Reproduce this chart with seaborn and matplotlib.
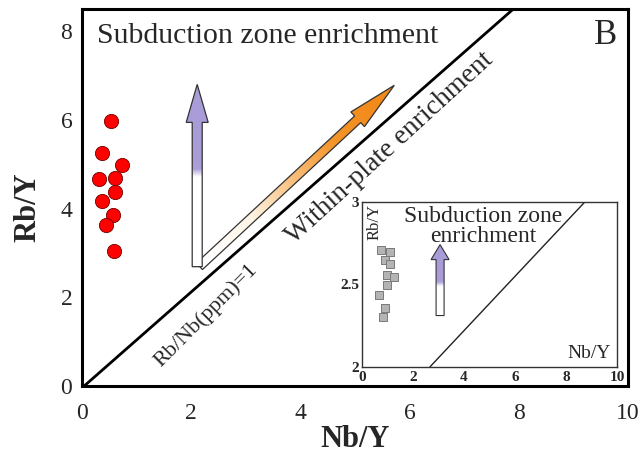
import numpy as np
import pandas as pd
import matplotlib
matplotlib.use("Agg")
import matplotlib.pyplot as plt
import seaborn as sns
from matplotlib.patches import Polygon
from matplotlib.colors import LinearSegmentedColormap

# ---------------- data ----------------
main_nb_y = [0.53, 0.36, 0.74, 0.32, 0.61, 0.61, 0.37, 0.57, 0.44, 0.58]
main_rb_y = [5.97, 5.25, 4.98, 4.67, 4.70, 4.38, 4.18, 3.86, 3.62, 3.05]

inset_nb_y = [0.76, 1.11, 0.91, 1.11, 1.00, 1.26, 0.98, 0.69, 0.91, 0.82]
inset_rb_y = [2.707, 2.696, 2.646, 2.622, 2.555, 2.545, 2.495, 2.434, 2.358, 2.303]

main_line_x = [0.04, 7.9]
main_line_y = [0.0, 8.5]
inset_line_x = [2.68, 8.75]
inset_line_y = [2.0, 3.0]

main_xticks = [0, 2, 4, 6, 8, 10]
main_yticks = [0, 2, 4, 6, 8]
inset_xticks = [0, 2, 4, 6, 8, 10]
inset_yticks = [2, 2.5, 3]
inset_ytick_labels = ["2", "2.5", "3"]

# arrows (data coordinates): base, tip
subd_arrow = [(2.11, 2.69), (2.11, 6.80)]
wpe_arrow = [(2.15, 2.70), (5.72, 6.78)]
inset_arrow = [(3.07, 2.31), (3.07, 2.74)]

# ---------------- style ----------------
sns.set_style("white")
plt.rcParams["font.family"] = ["Liberation Serif", "DejaVu Serif"]

W, H, DPI = 6.44, 4.57, 100
fig = plt.figure(figsize=(W, H), dpi=DPI)
ax = fig.add_axes([82 / 644, 1 - 386 / 457, 546 / 644, 377 / 457])
ax.set_xlim(0, 10)
ax.set_ylim(0, 8.5)

purple_cmap = LinearSegmentedColormap.from_list("pur", ["#ffffff", "#ffffff", "#ada0da", "#a99cd8"], N=256)
orange_cmap = LinearSegmentedColormap.from_list("org", ["#ffffff", "#fff6e6", "#f9c080", "#f4952a", "#f28a1c"], N=256)


def arrow_poly(axis, base, tip, sw, hw, hl):
    p0 = axis.transData.transform(base)
    p1 = axis.transData.transform(tip)
    d = p1 - p0
    L = np.hypot(*d)
    u = d / L
    n = np.array([-u[1], u[0]])
    hb = p1 - u * hl
    pts = np.array([p0 + n * sw / 2, hb + n * sw / 2, hb + n * hw / 2, p1,
                    hb - n * hw / 2, hb - n * sw / 2, p0 - n * sw / 2])
    return axis.transData.inverted().transform(pts), p0, u, L


def gradient_arrow(axis, base, tip, sw, hw, hl, cmap, t0, t1, z=3, lw=0.9):
    verts, p0, u, L = arrow_poly(axis, base, tip, sw, hw, hl)
    patch = Polygon(verts, closed=True, facecolor="none", edgecolor="#333333",
                    lw=lw, zorder=z + 1, joinstyle="miter")
    axis.add_patch(patch)
    clip = Polygon(verts, closed=True, facecolor="none", edgecolor="none", transform=axis.transData)
    axis.add_patch(clip)
    x0, y0 = verts.min(axis=0)
    x1, y1 = verts.max(axis=0)
    nx, ny = 200, 200
    gx = np.linspace(x0, x1, nx)
    gy = np.linspace(y0, y1, ny)
    GX, GY = np.meshgrid(gx, gy)
    P = axis.transData.transform(np.column_stack([GX.ravel(), GY.ravel()]))
    t = ((P - p0) @ u) / L
    t = np.clip((t - t0) / (t1 - t0), 0, 1).reshape(ny, nx)
    im = axis.imshow(t, extent=[x0, x1, y0, y1], origin="lower", cmap=cmap,
                     aspect="auto", zorder=z, interpolation="bilinear", vmin=0, vmax=1)
    im.set_clip_path(clip)


# ---------------- main plot ----------------
main_df = pd.DataFrame({"Nb/Y": main_nb_y, "Rb/Y": main_rb_y})
sns.lineplot(x=main_line_x, y=main_line_y, ax=ax, color="black", lw=2.0, zorder=2)
gradient_arrow(ax, wpe_arrow[0], wpe_arrow[1], 9, 20, 50, orange_cmap, 0.05, 0.9, z=3)
gradient_arrow(ax, subd_arrow[0], subd_arrow[1], 10, 22, 38, purple_cmap, 0.45, 0.58, z=5)
sns.scatterplot(data=main_df, x="Nb/Y", y="Rb/Y", ax=ax, color="#ff0000",
                edgecolor="#700000", linewidth=0.6, s=105, zorder=7)

ax.set_xlim(0, 10)
ax.set_ylim(0, 8.5)
ax.set_xticks(main_xticks)
ax.set_yticks(main_yticks)
ax.tick_params(axis="x", length=0, pad=12, labelsize=17)
ax.tick_params(axis="y", length=0, pad=7, labelsize=17)
for s in ax.spines.values():
    s.set_linewidth(2.2)
    s.set_color("black")
ax.set_xlabel("Nb/Y", fontsize=22, fontweight="bold", labelpad=1)
ax.set_ylabel("Rb/Y", fontsize=22, fontweight="bold", labelpad=11)
ax.yaxis.set_label_coords(-0.072, 0.475)

ax.text(0.28, 7.88, "Subduction zone enrichment", fontsize=21.5, ha="left", va="center")
ax.text(9.8, 7.9, "B", fontsize=25, ha="right", va="center")
ax.text(2.27, 1.58, "Rb/Nb(ppm)=1", fontsize=16, ha="center", va="center", rotation=45,
        rotation_mode="anchor")
ax.text(5.64, 5.37, "Within-plate enrichment", fontsize=20, ha="center", va="center", rotation=42.5,
        rotation_mode="anchor")

# ---------------- inset ----------------
ins = fig.add_axes([361.7 / 644, 1 - 366.7 / 457, 255.3 / 644, 165 / 457])
ins.set_xlim(0, 10)
ins.set_ylim(2, 3)
ins_df = pd.DataFrame({"Nb/Y": inset_nb_y, "Rb/Y": inset_rb_y})
sns.lineplot(x=inset_line_x, y=inset_line_y, ax=ins, color="#222222", lw=1.0, zorder=2)
gradient_arrow(ins, inset_arrow[0], inset_arrow[1], 8, 18, 15, purple_cmap, 0.35, 0.55, lw=0.8)
sns.scatterplot(data=ins_df, x="Nb/Y", y="Rb/Y", ax=ins, marker="s", color="#b4b4b4",
                edgecolor="#7a7a7a", linewidth=0.7, s=36, zorder=5)
ins.set_xlim(0, 10)
ins.set_ylim(2, 3)
ins.set_xticks(inset_xticks)
ins.set_yticks(inset_yticks)
ins.set_yticklabels(inset_ytick_labels)
ins.tick_params(axis="both", length=0, labelsize=11)
ins.tick_params(axis="x", pad=3)
ins.tick_params(axis="y", pad=2)
for lab in ins.get_xticklabels() + ins.get_yticklabels():
    lab.set_fontweight("bold")
for s in ins.spines.values():
    s.set_linewidth(1.0)
    s.set_color("#333333")
ins.set_xlabel("")
ins.set_ylabel("")
ins.text(0.2, 2.985, "Rb/Y", fontsize=12, rotation=90, ha="left", va="top")
ins.text(9.75, 2.03, "Nb/Y", fontsize=14, ha="right", va="bottom")
ins.text(4.75, 2.85, "Subduction zone\nenrichment", fontsize=17, ha="center", va="center",
         linespacing=0.95)

fig.savefig("out.png", dpi=DPI)
